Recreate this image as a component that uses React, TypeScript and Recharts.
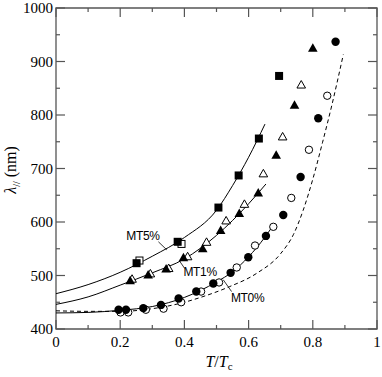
import React from 'react';
import {
  ComposedChart,
  Line,
  Scatter,
  XAxis,
  YAxis,
  ReferenceArea,
  ReferenceDot,
  ReferenceLine,
} from 'recharts';

// values: [T/Tc, lambda (nm)]
const mt5Filled = [[0.251, 523], [0.379, 563], [0.506, 627], [0.569, 687], [0.632, 756], [0.695, 873]];
const mt5Open = [[0.26, 528], [0.391, 559]];
const mt1Filled = [
  [0.231, 490], [0.287, 501], [0.343, 512], [0.397, 533], [0.457, 550], [0.513, 584],
  [0.571, 616], [0.63, 654], [0.686, 725], [0.743, 818], [0.8, 925],
];
const mt1Open = [
  [0.237, 493], [0.294, 503], [0.351, 513], [0.41, 535], [0.469, 562], [0.53, 602],
  [0.587, 633], [0.646, 690], [0.706, 759], [0.764, 856],
];
const mt0Filled = [
  [0.195, 436], [0.218, 436], [0.272, 439], [0.327, 445], [0.382, 457], [0.437, 470], [0.49, 485],
  [0.544, 505], [0.599, 534], [0.654, 574], [0.708, 613], [0.762, 684], [0.817, 794], [0.871, 937],
];
const mt0Open = [
  [0.201, 431], [0.225, 431], [0.28, 436], [0.335, 438], [0.39, 450], [0.452, 470], [0.508, 487],
  [0.563, 515], [0.62, 556], [0.677, 591], [0.733, 645], [0.788, 735], [0.845, 836],
];

// fitted curves
const mt5Curve = [[0, 466], [0.1, 483], [0.2, 506], [0.3, 536], [0.4, 571], [0.5, 622], [0.55, 668], [0.6, 721], [0.651, 783]];
const mt1Curve = [[0, 446], [0.1, 460], [0.2, 482], [0.3, 505], [0.4, 531], [0.5, 575], [0.6, 634], [0.654, 671]];
const mt0Curve = [
  [0, 430], [0.1, 431], [0.2, 435], [0.3, 442], [0.4, 459], [0.45, 472], [0.5, 488],
  [0.55, 507], [0.6, 535], [0.65, 571], [0.67, 588],
];
const dashedCurve = [
  [0, 434], [0.1, 433], [0.2, 433], [0.3, 438], [0.4, 450], [0.45, 459], [0.54, 479], [0.625, 504],
  [0.7, 541], [0.74, 577], [0.77, 622], [0.8, 680], [0.83, 748], [0.86, 820], [0.895, 913],
];

const xTicks = [0, 0.1, 0.2, 0.3, 0.4, 0.5, 0.6, 0.7, 0.8, 0.9, 1];
const xLabels = ['0', '', '0.2', '', '0.4', '', '0.6', '', '0.8', '', '1'];
const yTicks = [400, 450, 500, 550, 600, 650, 700, 750, 800, 850, 900, 950, 1000];
const yLabels = ['400', '', '500', '', '600', '', '700', '', '800', '', '900', '', '1000'];

const toPts = (arr: number[][]) => arr.map(([x, y]) => ({ x, y }));

const W = 382;
const H = 377;
const LEFT = 56;
const TOP = 8;
const RIGHT = 377;
const BOTTOM = 329;
const AXIS = '#555';
const serif = { fontFamily: "'Liberation Serif', 'Times New Roman', serif" };
const SANS = "'Liberation Sans', Arial, sans-serif";

const XTick = (props: any) => {
  const { x, index } = props;
  const label = xLabels[index] ?? '';
  const len = label ? 9 : 4;
  return (
    <g>
      <line x1={x} y1={BOTTOM} x2={x} y2={BOTTOM - len} stroke={AXIS} strokeWidth={1.2} />
      <line x1={x} y1={TOP} x2={x} y2={TOP + len} stroke={AXIS} strokeWidth={1.2} />
      {label && (
        <text x={x} y={347} textAnchor="middle" style={serif} fontSize={15} fill="#000">
          {label}
        </text>
      )}
    </g>
  );
};

const YTick = (props: any) => {
  const { y, index } = props;
  const label = yLabels[index] ?? '';
  const len = label ? 9 : 4;
  return (
    <g>
      <line x1={LEFT} y1={y} x2={LEFT + len} y2={y} stroke={AXIS} strokeWidth={1.2} />
      <line x1={RIGHT} y1={y} x2={RIGHT - len} y2={y} stroke={AXIS} strokeWidth={1.2} />
      {label && (
        <text x={53} y={y + 5} textAnchor="end" style={serif} fontSize={15} fill="#000">
          {label}
        </text>
      )}
    </g>
  );
};

const FilledSquare = ({ cx, cy }: any) => <rect x={cx - 4} y={cy - 4} width={8} height={8} fill="#000" />;
const OpenSquare = ({ cx, cy }: any) => (
  <rect x={cx - 3.5} y={cy - 3.5} width={7} height={7} fill="#fff" stroke="#000" strokeWidth={1} />
);
const FilledTri = ({ cx, cy }: any) => (
  <polygon points={`${cx},${cy - 5} ${cx + 4.8},${cy + 3.5} ${cx - 4.8},${cy + 3.5}`} fill="#000" />
);
const OpenTri = ({ cx, cy }: any) => (
  <polygon
    points={`${cx},${cy - 4.5} ${cx + 4.3},${cy + 3} ${cx - 4.3},${cy + 3}`}
    fill="#fff"
    stroke="#000"
    strokeWidth={1}
  />
);
const FilledCircle = ({ cx, cy }: any) => <circle cx={cx} cy={cy} r={4.2} fill="#000" />;
const OpenCircle = ({ cx, cy }: any) => <circle cx={cx} cy={cy} r={3.7} fill="#fff" stroke="#000" strokeWidth={1} />;

const labelStyle = { fill: '#000', fontSize: 12, fontFamily: SANS, letterSpacing: -0.3 };

export default function App() {
  return (
    <div style={{ position: 'absolute', left: 0, top: 0, width: W, height: H, background: '#fff' }}>
      <ComposedChart width={W} height={H} margin={{ top: TOP, right: W - RIGHT, left: 0, bottom: 0 }}>
        <XAxis
          type="number"
          dataKey="x"
          domain={[0, 1]}
          ticks={xTicks}
          interval={0}
          tick={<XTick />}
          tickLine={false}
          axisLine={false}
          height={H - BOTTOM}
          allowDataOverflow
          label={() => (
            <text x={219} y={367} textAnchor="middle" style={serif} fontSize={16} fill="#000">
              <tspan fontStyle="italic">T</tspan>
              <tspan>/</tspan>
              <tspan fontStyle="italic">T</tspan>
              <tspan fontSize={11} dy={3}>c</tspan>
            </text>
          )}
        />
        <YAxis
          type="number"
          dataKey="y"
          domain={[400, 1000]}
          ticks={yTicks}
          interval={0}
          tick={<YTick />}
          tickLine={false}
          axisLine={false}
          width={LEFT}
          allowDataOverflow
          label={() => (
            <text
              x={16}
              y={170}
              transform="rotate(-90 16 170)"
              textAnchor="middle"
              style={serif}
              fontSize={16}
              fill="#000"
            >
              <tspan fontStyle="italic">λ</tspan>
              <tspan fontSize={10} dy={4}>//</tspan>
              <tspan dy={-4}> (nm)</tspan>
            </text>
          )}
        />
        <ReferenceArea x1={0} x2={1} y1={400} y2={1000} fill="none" stroke={AXIS} strokeWidth={1.3} />

        <Line data={toPts(mt5Curve)} dataKey="y" type="monotone" stroke="#000" strokeWidth={1} dot={false} isAnimationActive={false} />
        <Line data={toPts(mt1Curve)} dataKey="y" type="monotone" stroke="#000" strokeWidth={1} dot={false} isAnimationActive={false} />
        <Line data={toPts(mt0Curve)} dataKey="y" type="monotone" stroke="#000" strokeWidth={1} dot={false} isAnimationActive={false} />
        <Line
          data={toPts(dashedCurve)}
          dataKey="y"
          type="monotone"
          stroke="#000"
          strokeWidth={1}
          strokeDasharray="4 3"
          dot={false}
          isAnimationActive={false}
        />

        <Scatter data={toPts(mt5Open)} shape={<OpenSquare />} isAnimationActive={false} />
        <Scatter data={toPts(mt5Filled)} shape={<FilledSquare />} isAnimationActive={false} />
        <Scatter data={toPts(mt1Open)} shape={<OpenTri />} isAnimationActive={false} />
        <Scatter data={toPts(mt1Filled)} shape={<FilledTri />} isAnimationActive={false} />
        <Scatter data={toPts(mt0Open)} shape={<OpenCircle />} isAnimationActive={false} />
        <Scatter data={toPts(mt0Filled)} shape={<FilledCircle />} isAnimationActive={false} />

        <ReferenceLine segment={[{ x: 0.319, y: 563 }, { x: 0.345, y: 548 }]} stroke="#000" strokeWidth={0.8} />
        <ReferenceLine segment={[{ x: 0.385, y: 527 }, { x: 0.401, y: 513 }]} stroke="#000" strokeWidth={0.8} />
        <ReferenceLine segment={[{ x: 0.521, y: 492 }, { x: 0.547, y: 470 }]} stroke="#000" strokeWidth={0.8} />

        <ReferenceDot x={0.271} y={575} r={0} fill="none" stroke="none" label={{ value: 'MT5%', position: 'center', ...labelStyle }} />
        <ReferenceDot x={0.449} y={507} r={0} fill="none" stroke="none" label={{ value: 'MT1%', position: 'center', ...labelStyle }} />
        <ReferenceDot x={0.597} y={459} r={0} fill="none" stroke="none" label={{ value: 'MT0%', position: 'center', ...labelStyle }} />
      </ComposedChart>
    </div>
  );
}
